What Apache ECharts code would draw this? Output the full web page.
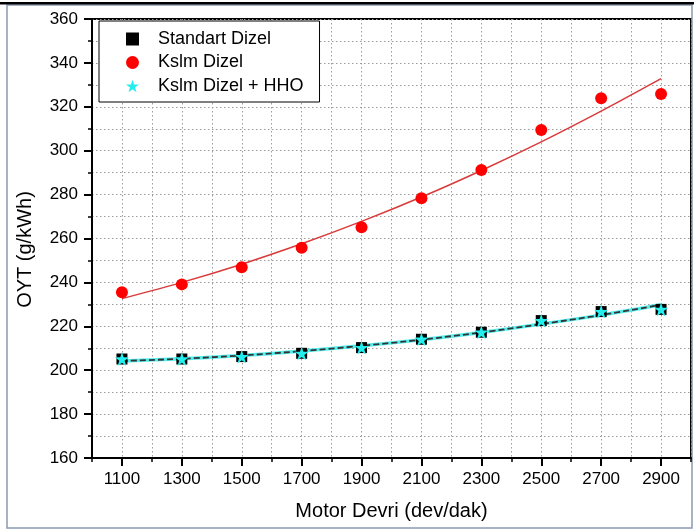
<!DOCTYPE html>
<html>
<head>
<meta charset="utf-8">
<script src="https://cdn.jsdelivr.net/npm/echarts@6/dist/echarts.min.js"></script>
<style>html,body{margin:0;padding:0;background:#fff;}#c{width:694px;height:531px;}</style>
</head>
<body>
<div id="c"></div>
<script>
// ---- data ----
const rpm = [1100, 1300, 1500, 1700, 1900, 2100, 2300, 2500, 2700, 2900];
const standartDizel = [205.1, 205.1, 206.2, 207.7, 210.3, 214.1, 217.3, 222.6, 226.7, 227.7];
const kslmDizel = [235.5, 239.1, 246.9, 255.8, 265.1, 278.3, 291.2, 309.4, 323.9, 325.8];
const kslmDizelHho = [205.1, 205.1, 206.2, 207.7, 210.3, 214.1, 217.3, 222.6, 226.7, 227.7];
// fitted trend curves, read at each speed
const fitStandart = [204.2, 205.2, 206.7, 208.7, 211.1, 213.9, 217.2, 221.0, 225.1, 229.8];
const fitKslm = [232.6, 240.0, 248.3, 257.6, 267.8, 278.9, 291.0, 304.0, 318.0, 332.8];
const fitHho = [204.2, 205.2, 206.7, 208.7, 211.1, 213.9, 217.2, 221.0, 225.1, 229.8];
const xLabelValues = [1100, 1300, 1500, 1700, 1900, 2100, 2300, 2500, 2700, 2900];

const pairs = arr => rpm.map((x, i) => [x, arr[i]]);
const FONT = 'Liberation Sans, Arial, sans-serif';
const starPath = 'path://M50,0 L61.2,34.5 L97.6,34.5 L68.2,55.9 L79.4,90.5 L50,69.1 L20.6,90.5 L31.8,55.9 L2.4,34.5 L38.8,34.5 Z';
const gridLine = {show: true, lineStyle: {color: '#9a9a9a', type: [1.5, 2.5], width: 1}};

const chart = echarts.init(document.getElementById('c'), null, {renderer: 'canvas'});
chart.setOption({
  animation: false,
  backgroundColor: '#fff',
  graphic: [
    {type: 'rect', shape: {x: 7, y: 5, width: 685, height: 523}, style: {fill: 'none', stroke: '#8b9ab3', lineWidth: 1.5}, z: 0},
    {type: 'rect', shape: {x: 0, y: 2, width: 694, height: 2.5}, style: {fill: '#000'}, z: 0}
  ],
  grid: {left: 92, right: 3, top: 19, bottom: 73, show: true, borderColor: '#000', borderWidth: 2, backgroundColor: 'transparent'},
  legend: {
    orient: 'vertical', left: 99, top: 21,
    padding: [8, 16, 6, 27],
    itemWidth: 13, itemHeight: 13, itemGap: 3.5,
    backgroundColor: '#fff', borderColor: '#000', borderWidth: 1,
    textStyle: {fontSize: 18, fontFamily: FONT, color: '#000', lineHeight: 20, padding: [0, 0, 0, 14]},
    data: [
      {name: 'Standart Dizel', icon: 'rect', itemStyle: {borderWidth: 0}},
      {name: 'Kslm Dizel', icon: 'circle'},
      {name: 'Kslm Dizel + HHO', icon: starPath}
    ]
  },
  xAxis: [
    {
      type: 'value', min: 1000, max: 3000, interval: 100,
      name: 'Motor Devri (dev/dak)', nameLocation: 'middle', nameGap: 43,
      nameTextStyle: {fontSize: 20, fontFamily: FONT, color: '#000'},
      axisLine: {show: true, lineStyle: {color: '#000', width: 2}},
      axisTick: {show: true, length: 8, lineStyle: {color: '#000', width: 2}, customValues: xLabelValues},
      axisLabel: {fontSize: 17, fontFamily: FONT, color: '#000', margin: 13, customValues: xLabelValues, formatter: v => String(v)},
      splitLine: {show: false}
    },
    {
      type: 'value', min: 1000, max: 3000, interval: 100, position: 'bottom',
      axisLine: {show: false},
      axisTick: {show: true, length: 4, lineStyle: {color: '#000', width: 1.5}},
      axisLabel: {show: false},
      splitLine: gridLine
    }
  ],
  yAxis: {
    type: 'value', min: 160, max: 360, interval: 20,
    name: 'OYT (g/kWh)', nameLocation: 'middle', nameGap: 57, nameRotate: 90,
    nameTextStyle: {fontSize: 20, fontFamily: FONT, color: '#000', padding: [0, 22, 0, 0]},
    axisLine: {show: true, lineStyle: {color: '#000', width: 2}},
    axisTick: {show: true, length: 8, lineStyle: {color: '#000', width: 2}},
    minorTick: {show: true, splitNumber: 2, length: 4, lineStyle: {color: '#000', width: 1.5}},
    axisLabel: {fontSize: 17, fontFamily: FONT, color: '#000', margin: 14},
    splitLine: gridLine,
    minorSplitLine: gridLine
  },
  series: [
    {name: 'fitKslm', type: 'line', data: pairs(fitKslm), smooth: 0.3, symbol: 'none', lineStyle: {color: '#d93a3a', width: 1.5}, z: 2},
    {name: 'fitHho', type: 'line', data: pairs(fitHho), smooth: 0.3, symbol: 'none', lineStyle: {color: '#55eeee', width: 3.5}, z: 2},
    {name: 'fitStandart', type: 'line', data: pairs(fitStandart), smooth: 0.3, symbol: 'none', lineStyle: {color: '#333', width: 1.8, type: [6, 3]}, z: 3},
    {name: 'Standart Dizel', type: 'scatter', data: pairs(standartDizel), symbol: 'rect', symbolSize: 11, itemStyle: {color: '#000', opacity: 1}, z: 4},
    {name: 'Kslm Dizel', type: 'scatter', data: pairs(kslmDizel), symbol: 'circle', symbolSize: 12, itemStyle: {color: '#ff0000', opacity: 1}, z: 4},
    {name: 'Kslm Dizel + HHO', type: 'scatter', data: pairs(kslmDizelHho), symbol: starPath, symbolSize: 14, itemStyle: {color: '#22eeee', opacity: 1}, z: 5}
  ]
});
</script>
</body>
</html>
